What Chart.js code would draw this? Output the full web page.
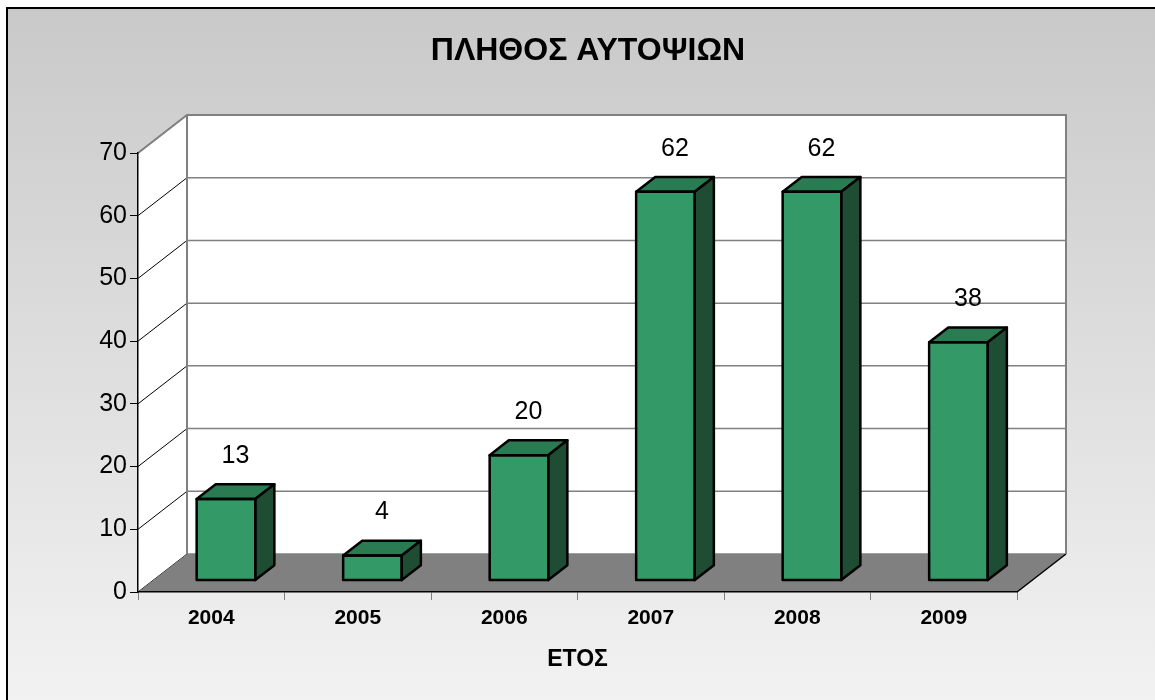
<!DOCTYPE html>
<html>
<head>
<meta charset="utf-8">
<script src="https://cdn.jsdelivr.net/npm/chart.js@4/dist/chart.umd.min.js"></script>
<style>
    html, body { margin: 0; padding: 0; background: #fff; }
    canvas { display: block; }
</style>
</head>
<body>
<canvas id="chart" width="1155" height="700"></canvas>
<script>
// Chart data
const years = ['2004', '2005', '2006', '2007', '2008', '2009'];
const inspections = [13, 4, 20, 62, 62, 38];
const yTicks = [0, 10, 20, 30, 40, 50, 60, 70];
const chartTitle = 'ΠΛΗΘΟΣ ΑΥΤΟΨΙΩΝ';
const axisTitle = 'ΕΤΟΣ';

const FONT = '"Liberation Sans", Arial, sans-serif';

// 3D look: offset of the back wall and where the bars sit in depth
const DX = 49, DY = -38;
const BAR_FRONT = 0.3, BAR_BACK = 0.69;

// Background, walls, floor and gridlines
const walls = {
    id: 'walls',
    beforeDraw(chart) {
        const { ctx, chartArea: a, scales: { y } } = chart;
        const W = chart.width, H = chart.height;
        const L = a.left, R = a.right, T = a.top, B = a.bottom;

        ctx.save();
        const g = ctx.createLinearGradient(0, 8, 0, H);
        g.addColorStop(0, '#c9c9c9');
        g.addColorStop(1, '#f2f2f2');
        ctx.fillStyle = g;
        ctx.fillRect(8, 9, W, H);
        ctx.strokeStyle = '#000';
        ctx.lineWidth = 2;
        ctx.beginPath();
        ctx.moveTo(7, H); ctx.lineTo(7, 8); ctx.lineTo(W, 8);
        ctx.stroke();

        // title
        ctx.fillStyle = '#000';
        ctx.font = 'bold 32px ' + FONT;
        ctx.textAlign = 'center';
        ctx.textBaseline = 'middle';
        ctx.fillText(chartTitle, 588, 51);

        // side wall + back wall
        ctx.fillStyle = '#fff';
        ctx.beginPath();
        ctx.moveTo(L, T); ctx.lineTo(L + DX, T + DY); ctx.lineTo(L + DX, B + DY); ctx.lineTo(L, B);
        ctx.closePath();
        ctx.fill();
        ctx.fillRect(L + DX, T + DY, R - L, B - T);

        // gridlines
        yTicks.forEach(v => {
            const py = y.getPixelForValue(v);
            ctx.strokeStyle = '#808080';
            ctx.lineWidth = 1.5;
            ctx.beginPath();
            ctx.moveTo(L + DX, py + DY); ctx.lineTo(R + DX, py + DY);
            ctx.stroke();
            ctx.strokeStyle = '#000';
            ctx.lineWidth = 1;
            ctx.beginPath();
            ctx.moveTo(L, py); ctx.lineTo(L + DX, py + DY);
            ctx.stroke();
        });

        // floor
        ctx.fillStyle = '#808080';
        ctx.beginPath();
        ctx.moveTo(L, B); ctx.lineTo(R, B); ctx.lineTo(R + DX, B + DY); ctx.lineTo(L + DX, B + DY);
        ctx.closePath();
        ctx.fill();
        ctx.strokeStyle = '#000';
        ctx.lineWidth = 1.5;
        ctx.beginPath();
        ctx.moveTo(R, B); ctx.lineTo(R + DX, B + DY);
        ctx.stroke();

        // wall outlines
        ctx.strokeStyle = '#808080';
        ctx.lineWidth = 2;
        ctx.beginPath();
        ctx.moveTo(L, T); ctx.lineTo(L + DX, T + DY); ctx.lineTo(R + DX, T + DY); ctx.lineTo(R + DX, B + DY);
        ctx.moveTo(L + DX, T + DY); ctx.lineTo(L + DX, B + DY);
        ctx.stroke();
        ctx.restore();
    }
};

// Shift bars into depth, add top/side faces and value labels
const bars3d = {
    id: 'bars3d',
    beforeDatasetsDraw(chart) {
        chart.ctx.save();
        chart.ctx.translate(DX * BAR_FRONT, DY * BAR_FRONT);
    },
    afterDatasetsDraw(chart) {
        const ctx = chart.ctx;
        const meta = chart.getDatasetMeta(0);
        const dx = DX * (BAR_BACK - BAR_FRONT), dy = DY * (BAR_BACK - BAR_FRONT);
        ctx.lineWidth = 2.5;
        ctx.lineJoin = 'round';
        ctx.strokeStyle = '#000';
        meta.data.forEach((bar, i) => {
            const { x, y, base, width } = bar.getProps(['x', 'y', 'base', 'width'], true);
            const l = x - width / 2, r = x + width / 2;

            ctx.fillStyle = '#2a7a52';
            ctx.beginPath();
            ctx.moveTo(l, y); ctx.lineTo(l + dx, y + dy); ctx.lineTo(r + dx, y + dy); ctx.lineTo(r, y);
            ctx.closePath();
            ctx.fill(); ctx.stroke();

            ctx.fillStyle = '#1e4d34';
            ctx.beginPath();
            ctx.moveTo(r, y); ctx.lineTo(r + dx, y + dy); ctx.lineTo(r + dx, base + dy); ctx.lineTo(r, base);
            ctx.closePath();
            ctx.fill(); ctx.stroke();

            ctx.strokeRect(l, y, width, base - y);

            ctx.fillStyle = '#000';
            ctx.font = '25px ' + FONT;
            ctx.textAlign = 'center';
            ctx.textBaseline = 'middle';
            ctx.fillText(String(inspections[i]), x + dx / 2, y - 43);
        });
        ctx.restore();
    }
};

new Chart(document.getElementById('chart'), {
    type: 'bar',
    data: {
        labels: years,
        datasets: [{
            data: inspections,
            backgroundColor: '#339966',
            borderColor: '#000',
            borderWidth: 1,
            barPercentage: 0.4,
            categoryPercentage: 1
        }]
    },
    options: {
        responsive: false,
        animation: false,
        layout: { padding: { top: 153, left: 0, right: 138, bottom: 0 } },
        plugins: {
            legend: { display: false },
            tooltip: { enabled: false },
            title: { display: false }
        },
        scales: {
            x: {
                grid: { drawOnChartArea: false, tickLength: 8, color: '#808080', offset: true },
                border: { color: '#000', width: 1.5 },
                ticks: { color: '#000', padding: 6, maxRotation: 0, font: { family: FONT, size: 21, weight: 'bold' } },
                title: {
                    display: true,
                    text: axisTitle,
                    color: '#000',
                    font: { family: FONT, size: 23, weight: 'bold' },
                    padding: { top: 0, bottom: 27 }
                },
                afterFit(scale) { scale.height = 108; }
            },
            y: {
                min: 0,
                max: 70,
                afterBuildTicks(scale) { scale.ticks = yTicks.map(v => ({ value: v })); },
                grid: { drawOnChartArea: false, tickLength: 8, color: '#000' },
                border: { color: '#000', width: 1.5 },
                ticks: { color: '#000', padding: 3, font: { family: FONT, size: 25 } },
                afterFit(scale) { scale.width = 138; }
            }
        }
    },
    plugins: [walls, bars3d]
});
</script>
</body>
</html>
